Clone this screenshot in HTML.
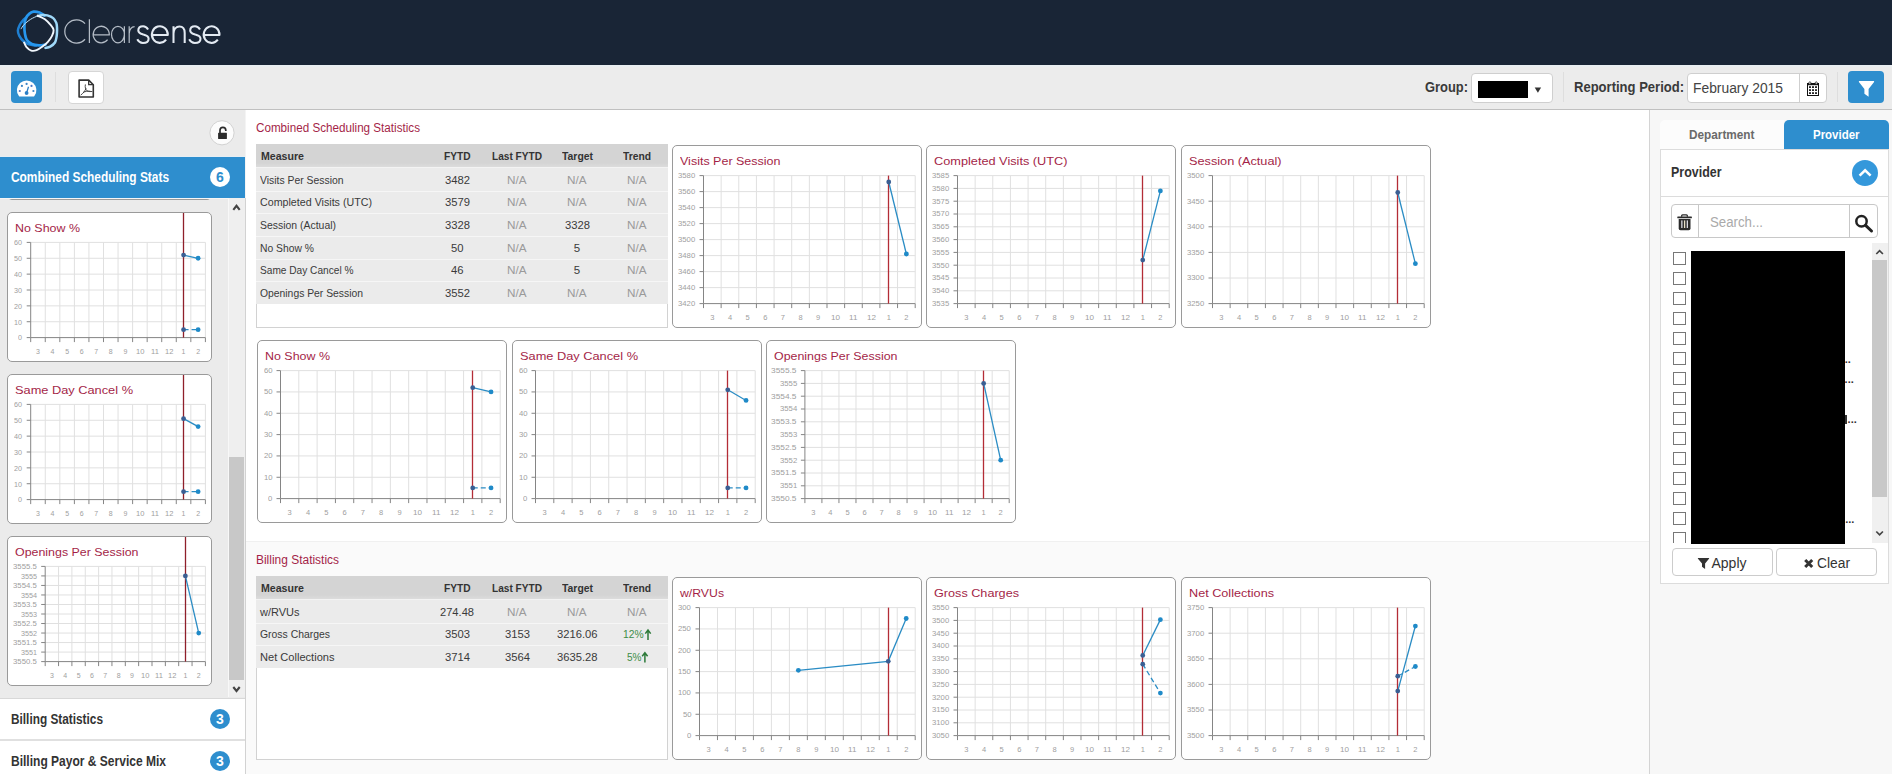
<!DOCTYPE html>
<html><head><meta charset="utf-8"><title>Clearsense</title>
<style>
html,body{margin:0;padding:0}
body{width:1892px;height:774px;overflow:hidden;position:relative;background:#fff;font-family:"Liberation Sans",sans-serif;}
.t{position:absolute;white-space:nowrap;transform-origin:0 50%;}
.card{position:absolute;border:1px solid #9a9a9a;border-radius:5px;background:#fff;}
.sv{position:absolute;left:0;top:0;pointer-events:none;overflow:visible}
.abs{position:absolute}
</style></head><body>
<div style="position:absolute;left:0;top:0;width:1892px;height:65px;background:#192536"></div>
<svg class="sv" width="240" height="65" viewBox="0 0 240 65">
<g fill="none" stroke-linecap="round" stroke-linejoin="round">
<path d="M26.50 17.50C25.85 18.05 23.75 19.52 22.60 20.80C21.45 22.08 20.38 23.57 19.60 25.20C18.82 26.83 17.95 28.82 17.90 30.60C17.85 32.38 18.37 34.12 19.30 35.90C20.23 37.68 21.90 39.88 23.50 41.30C25.10 42.72 26.82 43.68 28.90 44.40C30.98 45.12 34.82 45.40 36.00 45.60" stroke="#1f80d2" stroke-width="2.5"/><path d="M45.50 44.60C44.42 44.72 41.28 45.42 39.00 45.30C36.72 45.18 33.83 44.77 31.80 43.90C29.77 43.03 27.93 41.73 26.80 40.10C25.67 38.47 25.40 36.48 25.00 34.10C24.60 31.72 24.25 28.47 24.40 25.80C24.55 23.13 25.05 20.13 25.90 18.10C26.75 16.07 28.22 14.67 29.50 13.60C30.78 12.53 31.93 11.87 33.60 11.70C35.27 11.53 37.68 11.95 39.50 12.60C41.32 13.25 43.67 15.10 44.50 15.60" stroke="#2797ee" stroke-width="2.7"/><path d="M21.10 28.80C21.60 28.10 22.52 26.18 24.10 24.60C25.68 23.02 28.32 20.77 30.60 19.30C32.88 17.83 36.60 16.38 37.80 15.80" stroke="#bfe4fa" stroke-width="1.0"/><path d="M37.80 15.80C38.58 15.67 40.92 15.07 42.50 15.00C44.08 14.93 45.52 14.88 47.30 15.40C49.08 15.92 51.70 16.85 53.20 18.10C54.70 19.35 55.67 21.32 56.30 22.90C56.93 24.48 56.88 26.08 57.00 27.60C57.12 29.12 57.07 30.52 57.00 32.00C56.93 33.48 56.93 34.75 56.60 36.50C56.27 38.25 56.07 40.82 55.00 42.50C53.93 44.18 51.78 45.70 50.20 46.60C48.62 47.50 46.28 47.68 45.50 47.90" stroke="#9fd8f8" stroke-width="2.5"/><path d="M37.80 15.80C38.98 16.38 42.73 17.73 44.90 19.30C47.07 20.87 49.35 23.42 50.80 25.20C52.25 26.98 53.40 28.22 53.60 30.00C53.80 31.78 52.95 33.92 52.00 35.90C51.05 37.88 49.48 40.12 47.90 41.90C46.32 43.68 44.38 45.22 42.50 46.60C40.62 47.98 38.48 49.53 36.60 50.20C34.72 50.87 32.88 51.10 31.20 50.60C29.52 50.10 27.68 48.55 26.50 47.20C25.32 45.85 24.50 43.28 24.10 42.50" stroke="#f1f7fd" stroke-width="1.9"/>
<path d="M85.02 23.69A11.60 11.60 0 1 0 85.02 39.21M89.4 19.3V42.90M93.20 34.90H109.30A8.05 8.30 0 1 0 107.59 39.71M124.4 26.30V42.90M124.4 34.6A6.45 8.3 0 1 0 111.5 34.6A6.45 8.3 0 1 0 124.4 34.6M129.2 26.30V42.90M129.2 33.5C129.6 29 132 26.7 134.6 26.6" stroke="#b4bcc6" stroke-width="1.25" stroke-linecap="butt"/>
<path d="M148.10 29.50 C146.70 27.20 144.60 26.30 143.10 26.30 C139.60 26.30 138.30 27.90 138.30 30.60 C138.30 33.50 141.10 33.90 143.40 34.60 C146.10 35.30 148.60 36.10 148.60 38.70 C148.60 41.50 146.30 42.90 142.90 42.90 C140.10 42.90 138.50 41.70 137.30 39.30M151.90 34.90H167.80A7.95 8.30 0 1 0 166.11 39.71M173.5 26.30V42.90M173.5 33.5C173.7 29 176.3 26.5 179.4 26.5C182.8 26.5 184.7 29 184.7 33V42.90M200.00 29.50 C198.60 27.20 196.50 26.30 195.00 26.30 C191.50 26.30 190.20 27.90 190.20 30.60 C190.20 33.50 193.00 33.90 195.30 34.60 C198.00 35.30 200.50 36.10 200.50 38.70 C200.50 41.50 198.20 42.90 194.80 42.90 C192.00 42.90 190.40 41.70 189.20 39.30M203.70 34.90H219.50A7.90 8.30 0 1 0 217.83 39.71" stroke="#e3eaf2" stroke-width="2.05" stroke-linecap="butt"/>
</g></svg>
<div style="position:absolute;left:0;top:65px;width:1892px;height:44px;background:linear-gradient(#e9eef1 0,#e9eef1 1.5px,#ececec 2px);border-bottom:1px solid #c0c0c0"></div>
<div class="abs" style="left:11px;top:71px;width:31px;height:32px;background:#2e8ece;border-radius:4px"></div>
<div class="abs" style="left:55px;top:72px;width:1px;height:30px;background:#dedede"></div>
<div class="abs" style="left:68px;top:71px;width:34px;height:31px;background:#fff;border:1px solid #d6d6d6;border-radius:4px"></div>
<div class="t" style="left:1424.80px;top:79.95px;font-size:14px;line-height:14px;color:#3a3a3a;font-weight:bold;transform:scaleX(0.9217);">Group:</div>
<div class="abs" style="left:1471px;top:73px;width:80px;height:28px;background:#fff;border:1px solid #cfcfcf;border-radius:4px"></div>
<div class="abs" style="left:1478px;top:81px;width:50px;height:17px;background:#000"></div>
<svg class="sv" width="1892" height="120"><path d="M1534.7 87.5h6.4l-3.2 5.2z" fill="#333"/></svg>
<div class="abs" style="left:1563px;top:72px;width:1px;height:30px;background:#dedede"></div>
<div class="t" style="left:1574.00px;top:79.95px;font-size:14px;line-height:14px;color:#3a3a3a;font-weight:bold;transform:scaleX(0.9305);">Reporting Period:</div>
<div class="abs" style="left:1687px;top:73px;width:138px;height:28px;background:#fff;border:1px solid #cfcfcf;border-radius:4px"></div>
<div class="abs" style="left:1799px;top:74px;width:1px;height:28px;background:#cfcfcf"></div>
<div class="t" style="left:1693.20px;top:80.85px;font-size:14px;line-height:14px;color:#444;transform:scaleX(0.9884);">February 2015</div>
<div class="abs" style="left:1837px;top:72px;width:1px;height:30px;background:#dedede"></div>
<div class="abs" style="left:1848px;top:71px;width:36px;height:32px;background:#2e8ece;border-radius:4px"></div>
<svg class="sv" width="1892" height="120" viewBox="0 0 1892 120">
<path d="M18.9 96.1A9.75 9.75 0 1 1 34.4 96.1Q34.1 96.6 33.4 96.6H19.9Q19.2 96.6 18.9 96.1Z" fill="#fff"/>
<g fill="#3a84c6"><circle cx="21.9" cy="85.9" r="1.1"/><circle cx="26.6" cy="83.9" r="1.1"/><circle cx="31.5" cy="85.9" r="1.1" fill="#4a78c8"/><circle cx="19.8" cy="91" r="1.1" fill="#4a78c8"/><circle cx="33.4" cy="91" r="1.1"/><circle cx="26.6" cy="93" r="1.9" fill="#2b7fc6"/></g>
<path d="M28.5 86.8L26.6 93" stroke="#2b7fc6" stroke-width="1.3" fill="none"/>
<path d="M79.1 80.1H88.7L93.3 84.7V97H79.1Z" stroke="#333" stroke-width="1.6" fill="#fff" stroke-linejoin="round"/>
<path d="M88.7 80.1V84.7H93.3" stroke="#333" stroke-width="1.3" fill="none"/>
<path d="M85.3 84.8C84.8 87.5 85.6 89.8 87.2 90.9C88.6 91.8 90.6 91.6 91.9 91.5M86 88.5C85 91 83 93.5 81 94.9M83.4 92.3C85.4 91.3 88 90.9 90 91.2" stroke="#333" stroke-width="0.9" fill="none" stroke-linecap="round"/>
<rect x="1807.5" y="84.5" width="11" height="11" fill="#fff" stroke="#111" stroke-width="1"/>
<rect x="1807" y="83" width="12" height="2.2" fill="#111"/>
<rect x="1808.9" y="81.8" width="1.9" height="2.4" rx="0.8" fill="#fff" stroke="#111" stroke-width="0.7"/><rect x="1815.3" y="81.8" width="1.9" height="2.4" rx="0.8" fill="#fff" stroke="#111" stroke-width="0.7"/>
<g fill="#111"><rect x="1809.1" y="86.2" width="1.8" height="1.8"/><rect x="1812.1" y="86.2" width="1.8" height="1.8"/><rect x="1815.1" y="86.2" width="1.8" height="1.8"/><rect x="1809.1" y="89.2" width="1.8" height="1.8"/><rect x="1812.1" y="89.2" width="1.8" height="1.8"/><rect x="1815.1" y="89.2" width="1.8" height="1.8"/><rect x="1809.1" y="92.2" width="1.8" height="1.8"/><rect x="1812.1" y="92.2" width="1.8" height="1.8"/><rect x="1815.1" y="92.2" width="1.8" height="1.8"/></g>
<path d="M1859.1 81H1873.9Q1874.5 81.5 1873.9 82.2L1868.6 88.9V96.8L1864.4 93.7V88.9L1859.1 82.2Q1858.5 81.5 1859.1 81Z" fill="#fff"/>
</svg>
<div class="abs" style="left:0px;top:110px;width:245px;height:664px;background:#ebebeb"></div>
<div class="abs" style="left:245px;top:110px;width:1px;height:88px;background:#f4f4f4"></div>
<div class="abs" style="left:245px;top:198px;width:1px;height:576px;background:#d2d2d2"></div>
<div class="abs" style="left:228px;top:198px;width:1px;height:499px;background:#f8f8f8"></div>
<div class="abs" style="left:229px;top:198px;width:16px;height:499px;background:#efefef"></div>
<div class="abs" style="left:229px;top:457px;width:15px;height:223px;background:#c8c8c8"></div>
<svg class="sv" width="260" height="774" viewBox="0 0 260 774"><circle cx="222" cy="132.8" r="12.1" fill="#fcfcfc" stroke="#d2d2d2" stroke-width="1"/><rect x="218.1" y="132.8" width="8.8" height="6.2" rx="0.6" fill="#2b2b2b"/><path d="M220 133V130.3A2.9 3 0 0 1 225.8 130.3V131" stroke="#2b2b2b" stroke-width="1.7" fill="none"/><path d="M233.3 209.8l3.2-4l3.2 4M233.3 687l3.2 4l3.2-4" stroke="#444" stroke-width="2.1" fill="none"/></svg>
<div class="abs" style="left:7px;top:170px;width:203px;height:28px;background:#fff;border:1px solid #9a9a9a;border-radius:5px"></div>
<div class="abs" style="left:0px;top:155.5px;width:245px;height:2px;background:#e6eef4"></div>
<div class="abs" style="left:0px;top:157px;width:245px;height:41px;background:#2e8ece"></div>
<div class="abs" style="left:0px;top:198px;width:229px;height:1px;background:#f6f6f6"></div>
<div class="t" style="left:11.30px;top:170.15px;font-size:14px;line-height:14px;color:#fff;font-weight:bold;transform:scaleX(0.8499);">Combined Scheduling Stats</div>
<div class="abs" style="left:210px;top:167px;width:20px;height:20px;background:#fff;border-radius:50%"></div>
<div class="t" style="left:216.11px;top:170.15px;font-size:14px;line-height:14px;color:#2e8ece;font-weight:bold;">6</div>
<div class="card" style="left:7px;top:212px;width:203px;height:148px"></div>
<div class="t" style="left:15.00px;top:222.69px;font-size:11px;line-height:11px;color:#a41f48;transform:scaleX(1.1310);">No Show %</div>
<svg class="sv" width="1892" height="774" viewBox="0 0 1892 774"><path d="M45.26 242.40V337.60M59.82 242.40V337.60M74.38 242.40V337.60M88.93 242.40V337.60M103.49 242.40V337.60M118.05 242.40V337.60M132.61 242.40V337.60M147.17 242.40V337.60M161.72 242.40V337.60M176.28 242.40V337.60M190.84 242.40V337.60M205.40 242.40V337.60M30.70 242.40H205.40M30.70 258.27H205.40M30.70 274.13H205.40M30.70 290.00H205.40M30.70 305.87H205.40M30.70 321.73H205.40" stroke="#e0e0e0" stroke-width="1" fill="none"/><path d="M30.70 242.40V337.60M30.70 337.60H205.40M30.70 337.60v4.5M45.26 337.60v4.5M59.82 337.60v4.5M74.38 337.60v4.5M88.93 337.60v4.5M103.49 337.60v4.5M118.05 337.60v4.5M132.61 337.60v4.5M147.17 337.60v4.5M161.72 337.60v4.5M176.28 337.60v4.5M190.84 337.60v4.5M205.40 337.60v4.5M30.70 242.40h-4M30.70 258.27h-4M30.70 274.13h-4M30.70 290.00h-4M30.70 305.87h-4M30.70 321.73h-4M30.70 337.60h-4" stroke="#858585" stroke-width="1" fill="none"/><path d="M183.50 213.00V337.60" stroke="#8f1f2a" stroke-width="1.3" fill="none"/><path d="M183.56 255.09L198.12 258.27" stroke="#2a8cc4" stroke-width="1.3" fill="none"/><path d="M183.56 329.67L198.12 329.67" stroke="#2a8cc4" stroke-width="1.3" fill="none" stroke-dasharray="5 3"/><circle cx="183.56" cy="255.09" r="2.4" fill="#3a5f93"/><circle cx="198.12" cy="258.27" r="2.4" fill="#1f8ac8"/><circle cx="183.56" cy="329.67" r="2.4" fill="#3a5f93"/><circle cx="198.12" cy="329.67" r="2.4" fill="#1f8ac8"/></svg>
<div class="t" style="left:18.49px;top:334.37px;font-size:7px;line-height:7px;color:#a0a0a0;transform:scaleX(1.0300);">0</div>
<div class="t" style="left:14.48px;top:318.51px;font-size:7px;line-height:7px;color:#a0a0a0;transform:scaleX(1.0300);">10</div>
<div class="t" style="left:14.48px;top:302.64px;font-size:7px;line-height:7px;color:#a0a0a0;transform:scaleX(1.0300);">20</div>
<div class="t" style="left:14.48px;top:286.77px;font-size:7px;line-height:7px;color:#a0a0a0;transform:scaleX(1.0300);">30</div>
<div class="t" style="left:14.48px;top:270.91px;font-size:7px;line-height:7px;color:#a0a0a0;transform:scaleX(1.0300);">40</div>
<div class="t" style="left:14.48px;top:255.04px;font-size:7px;line-height:7px;color:#a0a0a0;transform:scaleX(1.0300);">50</div>
<div class="t" style="left:14.48px;top:239.17px;font-size:7px;line-height:7px;color:#a0a0a0;transform:scaleX(1.0300);">60</div>
<div class="t" style="left:36.03px;top:348.27px;font-size:7px;line-height:7px;color:#a0a0a0;">3</div>
<div class="t" style="left:50.59px;top:348.27px;font-size:7px;line-height:7px;color:#a0a0a0;">4</div>
<div class="t" style="left:65.15px;top:348.27px;font-size:7px;line-height:7px;color:#a0a0a0;">5</div>
<div class="t" style="left:79.71px;top:348.27px;font-size:7px;line-height:7px;color:#a0a0a0;">6</div>
<div class="t" style="left:94.27px;top:348.27px;font-size:7px;line-height:7px;color:#a0a0a0;">7</div>
<div class="t" style="left:108.82px;top:348.27px;font-size:7px;line-height:7px;color:#a0a0a0;">8</div>
<div class="t" style="left:123.38px;top:348.27px;font-size:7px;line-height:7px;color:#a0a0a0;">9</div>
<div class="t" style="left:135.68px;top:348.27px;font-size:7px;line-height:7px;color:#a0a0a0;transform:scaleX(1.0800);">10</div>
<div class="t" style="left:150.52px;top:348.27px;font-size:7px;line-height:7px;color:#a0a0a0;transform:scaleX(1.0800);">11</div>
<div class="t" style="left:164.80px;top:348.27px;font-size:7px;line-height:7px;color:#a0a0a0;transform:scaleX(1.0800);">12</div>
<div class="t" style="left:181.62px;top:348.27px;font-size:7px;line-height:7px;color:#a0a0a0;">1</div>
<div class="t" style="left:196.17px;top:348.27px;font-size:7px;line-height:7px;color:#a0a0a0;">2</div>
<div class="card" style="left:7px;top:374px;width:203px;height:148px"></div>
<div class="t" style="left:15.00px;top:384.69px;font-size:11px;line-height:11px;color:#a41f48;transform:scaleX(1.1627);">Same Day Cancel %</div>
<svg class="sv" width="1892" height="774" viewBox="0 0 1892 774"><path d="M45.26 404.40V499.60M59.82 404.40V499.60M74.38 404.40V499.60M88.93 404.40V499.60M103.49 404.40V499.60M118.05 404.40V499.60M132.61 404.40V499.60M147.17 404.40V499.60M161.72 404.40V499.60M176.28 404.40V499.60M190.84 404.40V499.60M205.40 404.40V499.60M30.70 404.40H205.40M30.70 420.27H205.40M30.70 436.13H205.40M30.70 452.00H205.40M30.70 467.87H205.40M30.70 483.73H205.40" stroke="#e0e0e0" stroke-width="1" fill="none"/><path d="M30.70 404.40V499.60M30.70 499.60H205.40M30.70 499.60v4.5M45.26 499.60v4.5M59.82 499.60v4.5M74.38 499.60v4.5M88.93 499.60v4.5M103.49 499.60v4.5M118.05 499.60v4.5M132.61 499.60v4.5M147.17 499.60v4.5M161.72 499.60v4.5M176.28 499.60v4.5M190.84 499.60v4.5M205.40 499.60v4.5M30.70 404.40h-4M30.70 420.27h-4M30.70 436.13h-4M30.70 452.00h-4M30.70 467.87h-4M30.70 483.73h-4M30.70 499.60h-4" stroke="#858585" stroke-width="1" fill="none"/><path d="M183.50 375.00V499.60" stroke="#8f1f2a" stroke-width="1.3" fill="none"/><path d="M183.56 418.68L198.12 426.61" stroke="#2a8cc4" stroke-width="1.3" fill="none"/><path d="M183.56 491.67L198.12 491.67" stroke="#2a8cc4" stroke-width="1.3" fill="none" stroke-dasharray="5 3"/><circle cx="183.56" cy="418.68" r="2.4" fill="#3a5f93"/><circle cx="198.12" cy="426.61" r="2.4" fill="#1f8ac8"/><circle cx="183.56" cy="491.67" r="2.4" fill="#3a5f93"/><circle cx="198.12" cy="491.67" r="2.4" fill="#1f8ac8"/></svg>
<div class="t" style="left:18.49px;top:496.37px;font-size:7px;line-height:7px;color:#a0a0a0;transform:scaleX(1.0300);">0</div>
<div class="t" style="left:14.48px;top:480.51px;font-size:7px;line-height:7px;color:#a0a0a0;transform:scaleX(1.0300);">10</div>
<div class="t" style="left:14.48px;top:464.64px;font-size:7px;line-height:7px;color:#a0a0a0;transform:scaleX(1.0300);">20</div>
<div class="t" style="left:14.48px;top:448.77px;font-size:7px;line-height:7px;color:#a0a0a0;transform:scaleX(1.0300);">30</div>
<div class="t" style="left:14.48px;top:432.91px;font-size:7px;line-height:7px;color:#a0a0a0;transform:scaleX(1.0300);">40</div>
<div class="t" style="left:14.48px;top:417.04px;font-size:7px;line-height:7px;color:#a0a0a0;transform:scaleX(1.0300);">50</div>
<div class="t" style="left:14.48px;top:401.17px;font-size:7px;line-height:7px;color:#a0a0a0;transform:scaleX(1.0300);">60</div>
<div class="t" style="left:36.03px;top:510.27px;font-size:7px;line-height:7px;color:#a0a0a0;">3</div>
<div class="t" style="left:50.59px;top:510.27px;font-size:7px;line-height:7px;color:#a0a0a0;">4</div>
<div class="t" style="left:65.15px;top:510.27px;font-size:7px;line-height:7px;color:#a0a0a0;">5</div>
<div class="t" style="left:79.71px;top:510.27px;font-size:7px;line-height:7px;color:#a0a0a0;">6</div>
<div class="t" style="left:94.27px;top:510.27px;font-size:7px;line-height:7px;color:#a0a0a0;">7</div>
<div class="t" style="left:108.82px;top:510.27px;font-size:7px;line-height:7px;color:#a0a0a0;">8</div>
<div class="t" style="left:123.38px;top:510.27px;font-size:7px;line-height:7px;color:#a0a0a0;">9</div>
<div class="t" style="left:135.68px;top:510.27px;font-size:7px;line-height:7px;color:#a0a0a0;transform:scaleX(1.0800);">10</div>
<div class="t" style="left:150.52px;top:510.27px;font-size:7px;line-height:7px;color:#a0a0a0;transform:scaleX(1.0800);">11</div>
<div class="t" style="left:164.80px;top:510.27px;font-size:7px;line-height:7px;color:#a0a0a0;transform:scaleX(1.0800);">12</div>
<div class="t" style="left:181.62px;top:510.27px;font-size:7px;line-height:7px;color:#a0a0a0;">1</div>
<div class="t" style="left:196.17px;top:510.27px;font-size:7px;line-height:7px;color:#a0a0a0;">2</div>
<div class="card" style="left:7px;top:536px;width:203px;height:148px"></div>
<div class="t" style="left:15.00px;top:546.69px;font-size:11px;line-height:11px;color:#a41f48;transform:scaleX(1.1283);">Openings Per Session</div>
<svg class="sv" width="1892" height="774" viewBox="0 0 1892 774"><path d="M58.55 566.40V661.60M71.90 566.40V661.60M85.25 566.40V661.60M98.60 566.40V661.60M111.95 566.40V661.60M125.30 566.40V661.60M138.65 566.40V661.60M152.00 566.40V661.60M165.35 566.40V661.60M178.70 566.40V661.60M192.05 566.40V661.60M205.40 566.40V661.60M45.20 566.40H205.40M45.20 575.92H205.40M45.20 585.44H205.40M45.20 594.96H205.40M45.20 604.48H205.40M45.20 614.00H205.40M45.20 623.52H205.40M45.20 633.04H205.40M45.20 642.56H205.40M45.20 652.08H205.40" stroke="#e0e0e0" stroke-width="1" fill="none"/><path d="M45.20 566.40V661.60M45.20 661.60H205.40M45.20 661.60v4.5M58.55 661.60v4.5M71.90 661.60v4.5M85.25 661.60v4.5M98.60 661.60v4.5M111.95 661.60v4.5M125.30 661.60v4.5M138.65 661.60v4.5M152.00 661.60v4.5M165.35 661.60v4.5M178.70 661.60v4.5M192.05 661.60v4.5M205.40 661.60v4.5M45.20 566.40h-4M45.20 575.92h-4M45.20 585.44h-4M45.20 594.96h-4M45.20 604.48h-4M45.20 614.00h-4M45.20 623.52h-4M45.20 633.04h-4M45.20 642.56h-4M45.20 652.08h-4M45.20 661.60h-4" stroke="#858585" stroke-width="1" fill="none"/><path d="M185.50 537.00V661.60" stroke="#8f1f2a" stroke-width="1.3" fill="none"/><path d="M185.38 575.92L198.73 633.04" stroke="#2a8cc4" stroke-width="1.3" fill="none"/><circle cx="185.38" cy="575.92" r="2.4" fill="#3a5f93"/><circle cx="198.73" cy="633.04" r="2.4" fill="#1f8ac8"/></svg>
<div class="t" style="left:13.23px;top:658.37px;font-size:7px;line-height:7px;color:#a0a0a0;transform:scaleX(1.1100);">3550.5</div>
<div class="t" style="left:20.96px;top:648.85px;font-size:7px;line-height:7px;color:#a0a0a0;transform:scaleX(1.0300);">3551</div>
<div class="t" style="left:13.23px;top:639.33px;font-size:7px;line-height:7px;color:#a0a0a0;transform:scaleX(1.1100);">3551.5</div>
<div class="t" style="left:20.96px;top:629.81px;font-size:7px;line-height:7px;color:#a0a0a0;transform:scaleX(1.0300);">3552</div>
<div class="t" style="left:13.23px;top:620.29px;font-size:7px;line-height:7px;color:#a0a0a0;transform:scaleX(1.1100);">3552.5</div>
<div class="t" style="left:20.96px;top:610.77px;font-size:7px;line-height:7px;color:#a0a0a0;transform:scaleX(1.0300);">3553</div>
<div class="t" style="left:13.23px;top:601.25px;font-size:7px;line-height:7px;color:#a0a0a0;transform:scaleX(1.1100);">3553.5</div>
<div class="t" style="left:20.96px;top:591.73px;font-size:7px;line-height:7px;color:#a0a0a0;transform:scaleX(1.0300);">3554</div>
<div class="t" style="left:13.23px;top:582.21px;font-size:7px;line-height:7px;color:#a0a0a0;transform:scaleX(1.1100);">3554.5</div>
<div class="t" style="left:20.96px;top:572.69px;font-size:7px;line-height:7px;color:#a0a0a0;transform:scaleX(1.0300);">3555</div>
<div class="t" style="left:13.23px;top:563.17px;font-size:7px;line-height:7px;color:#a0a0a0;transform:scaleX(1.1100);">3555.5</div>
<div class="t" style="left:49.93px;top:672.27px;font-size:7px;line-height:7px;color:#a0a0a0;">3</div>
<div class="t" style="left:63.28px;top:672.27px;font-size:7px;line-height:7px;color:#a0a0a0;">4</div>
<div class="t" style="left:76.63px;top:672.27px;font-size:7px;line-height:7px;color:#a0a0a0;">5</div>
<div class="t" style="left:89.98px;top:672.27px;font-size:7px;line-height:7px;color:#a0a0a0;">6</div>
<div class="t" style="left:103.33px;top:672.27px;font-size:7px;line-height:7px;color:#a0a0a0;">7</div>
<div class="t" style="left:116.68px;top:672.27px;font-size:7px;line-height:7px;color:#a0a0a0;">8</div>
<div class="t" style="left:130.03px;top:672.27px;font-size:7px;line-height:7px;color:#a0a0a0;">9</div>
<div class="t" style="left:141.12px;top:672.27px;font-size:7px;line-height:7px;color:#a0a0a0;transform:scaleX(1.0800);">10</div>
<div class="t" style="left:154.75px;top:672.27px;font-size:7px;line-height:7px;color:#a0a0a0;transform:scaleX(1.0800);">11</div>
<div class="t" style="left:167.82px;top:672.27px;font-size:7px;line-height:7px;color:#a0a0a0;transform:scaleX(1.0800);">12</div>
<div class="t" style="left:183.43px;top:672.27px;font-size:7px;line-height:7px;color:#a0a0a0;">1</div>
<div class="t" style="left:196.78px;top:672.27px;font-size:7px;line-height:7px;color:#a0a0a0;">2</div>
<div class="abs" style="left:0px;top:697.5px;width:245px;height:40.5px;background:#fff;border-top:1.5px solid #d8d8d8;border-bottom:2px solid #e0e0e0"></div>
<div class="abs" style="left:0px;top:741px;width:245px;height:40px;background:#fff"></div>
<div class="t" style="left:11.30px;top:711.65px;font-size:14px;line-height:14px;color:#333;font-weight:bold;transform:scaleX(0.8447);">Billing Statistics</div>
<div class="t" style="left:11.30px;top:753.65px;font-size:14px;line-height:14px;color:#333;font-weight:bold;transform:scaleX(0.8587);">Billing Payor &amp; Service Mix</div>
<div class="abs" style="left:210px;top:709px;width:20px;height:20px;background:#2e8ece;border-radius:50%"></div>
<div class="t" style="left:216.11px;top:712.15px;font-size:14px;line-height:14px;color:#fff;font-weight:bold;">3</div>
<div class="abs" style="left:210px;top:751px;width:20px;height:20px;background:#2e8ece;border-radius:50%"></div>
<div class="t" style="left:216.11px;top:754.15px;font-size:14px;line-height:14px;color:#fff;font-weight:bold;">3</div>
<div class="abs" style="left:246px;top:110px;width:1403px;height:431px;background:#fff"></div>
<div class="abs" style="left:246px;top:541px;width:1403px;height:233px;background:#fafafa;border-top:1px solid #f0f0f0"></div>
<div class="t" style="left:256.00px;top:121.84px;font-size:12px;line-height:12px;color:#a41f48;transform:scaleX(0.9718);">Combined Scheduling Statistics</div>
<div class="t" style="left:256.00px;top:553.84px;font-size:12px;line-height:12px;color:#a41f48;transform:scaleX(0.9957);">Billing Statistics</div>
<div class="abs" style="left:256px;top:144px;width:410px;height:183px;background:#fff;border:1px solid #d2d2d2;border-top:none"></div>
<div class="abs" style="left:256px;top:144px;width:412px;height:24px;background:#f3f3f3"></div>
<div class="abs" style="left:256px;top:144px;width:412px;height:23.2px;background:linear-gradient(#d4d4d4 0,#d4d4d4 82%,#dcdcdc 100%)"></div>
<div class="t" style="left:260.50px;top:151.17px;font-size:11.5px;line-height:11.5px;color:#333;font-weight:bold;transform:scaleX(0.9215);">Measure</div>
<div class="t" style="left:443.75px;top:151.17px;font-size:11.5px;line-height:11.5px;color:#333;font-weight:bold;transform:scaleX(0.8826);">FYTD</div>
<div class="t" style="left:492.00px;top:151.17px;font-size:11.5px;line-height:11.5px;color:#333;font-weight:bold;transform:scaleX(0.8793);">Last FYTD</div>
<div class="t" style="left:561.50px;top:151.17px;font-size:11.5px;line-height:11.5px;color:#333;font-weight:bold;transform:scaleX(0.9040);">Target</div>
<div class="t" style="left:623.00px;top:151.17px;font-size:11.5px;line-height:11.5px;color:#333;font-weight:bold;transform:scaleX(0.8943);">Trend</div>
<div class="abs" style="left:256px;top:168px;width:412px;height:135.7px;background:#ebebeb"></div>
<div class="abs" style="left:256px;top:190.6px;width:412px;height:1px;background:#f6f6f6"></div>
<div class="abs" style="left:256px;top:213.3px;width:412px;height:1px;background:#f6f6f6"></div>
<div class="abs" style="left:256px;top:236px;width:412px;height:1px;background:#f6f6f6"></div>
<div class="abs" style="left:256px;top:258.7px;width:412px;height:1px;background:#f6f6f6"></div>
<div class="abs" style="left:256px;top:281.4px;width:412px;height:1px;background:#f6f6f6"></div>
<div class="t" style="left:260.30px;top:174.57px;font-size:11.5px;line-height:11.5px;color:#3a3a3a;transform:scaleX(0.9030);">Visits Per Session</div>
<div class="t" style="left:444.50px;top:174.57px;font-size:11.5px;line-height:11.5px;color:#3a3a3a;transform:scaleX(0.9772);">3482</div>
<div class="t" style="left:507.25px;top:174.57px;font-size:11.5px;line-height:11.5px;color:#9a9a9a;transform:scaleX(1.0172);">N/A</div>
<div class="t" style="left:567.25px;top:174.57px;font-size:11.5px;line-height:11.5px;color:#9a9a9a;transform:scaleX(1.0172);">N/A</div>
<div class="t" style="left:627.25px;top:174.57px;font-size:11.5px;line-height:11.5px;color:#9a9a9a;transform:scaleX(1.0172);">N/A</div>
<div class="t" style="left:260.30px;top:197.27px;font-size:11.5px;line-height:11.5px;color:#3a3a3a;transform:scaleX(0.9290);">Completed Visits (UTC)</div>
<div class="t" style="left:444.50px;top:197.27px;font-size:11.5px;line-height:11.5px;color:#3a3a3a;transform:scaleX(0.9772);">3579</div>
<div class="t" style="left:507.25px;top:197.27px;font-size:11.5px;line-height:11.5px;color:#9a9a9a;transform:scaleX(1.0172);">N/A</div>
<div class="t" style="left:567.25px;top:197.27px;font-size:11.5px;line-height:11.5px;color:#9a9a9a;transform:scaleX(1.0172);">N/A</div>
<div class="t" style="left:627.25px;top:197.27px;font-size:11.5px;line-height:11.5px;color:#9a9a9a;transform:scaleX(1.0172);">N/A</div>
<div class="t" style="left:260.30px;top:219.97px;font-size:11.5px;line-height:11.5px;color:#3a3a3a;transform:scaleX(0.9077);">Session (Actual)</div>
<div class="t" style="left:444.50px;top:219.97px;font-size:11.5px;line-height:11.5px;color:#3a3a3a;transform:scaleX(0.9772);">3328</div>
<div class="t" style="left:507.25px;top:219.97px;font-size:11.5px;line-height:11.5px;color:#9a9a9a;transform:scaleX(1.0172);">N/A</div>
<div class="t" style="left:564.50px;top:219.97px;font-size:11.5px;line-height:11.5px;color:#3a3a3a;transform:scaleX(0.9772);">3328</div>
<div class="t" style="left:627.25px;top:219.97px;font-size:11.5px;line-height:11.5px;color:#9a9a9a;transform:scaleX(1.0172);">N/A</div>
<div class="t" style="left:260.30px;top:242.67px;font-size:11.5px;line-height:11.5px;color:#3a3a3a;transform:scaleX(0.8988);">No Show %</div>
<div class="t" style="left:450.75px;top:242.67px;font-size:11.5px;line-height:11.5px;color:#3a3a3a;transform:scaleX(0.9772);">50</div>
<div class="t" style="left:507.25px;top:242.67px;font-size:11.5px;line-height:11.5px;color:#9a9a9a;transform:scaleX(1.0172);">N/A</div>
<div class="t" style="left:573.80px;top:242.67px;font-size:11.5px;line-height:11.5px;color:#3a3a3a;">5</div>
<div class="t" style="left:627.25px;top:242.67px;font-size:11.5px;line-height:11.5px;color:#9a9a9a;transform:scaleX(1.0172);">N/A</div>
<div class="t" style="left:260.30px;top:265.37px;font-size:11.5px;line-height:11.5px;color:#3a3a3a;transform:scaleX(0.8812);">Same Day Cancel %</div>
<div class="t" style="left:450.75px;top:265.37px;font-size:11.5px;line-height:11.5px;color:#3a3a3a;transform:scaleX(0.9772);">46</div>
<div class="t" style="left:507.25px;top:265.37px;font-size:11.5px;line-height:11.5px;color:#9a9a9a;transform:scaleX(1.0172);">N/A</div>
<div class="t" style="left:573.80px;top:265.37px;font-size:11.5px;line-height:11.5px;color:#3a3a3a;">5</div>
<div class="t" style="left:627.25px;top:265.37px;font-size:11.5px;line-height:11.5px;color:#9a9a9a;transform:scaleX(1.0172);">N/A</div>
<div class="t" style="left:260.30px;top:288.07px;font-size:11.5px;line-height:11.5px;color:#3a3a3a;transform:scaleX(0.9001);">Openings Per Session</div>
<div class="t" style="left:444.50px;top:288.07px;font-size:11.5px;line-height:11.5px;color:#3a3a3a;transform:scaleX(0.9772);">3552</div>
<div class="t" style="left:507.25px;top:288.07px;font-size:11.5px;line-height:11.5px;color:#9a9a9a;transform:scaleX(1.0172);">N/A</div>
<div class="t" style="left:567.25px;top:288.07px;font-size:11.5px;line-height:11.5px;color:#9a9a9a;transform:scaleX(1.0172);">N/A</div>
<div class="t" style="left:627.25px;top:288.07px;font-size:11.5px;line-height:11.5px;color:#9a9a9a;transform:scaleX(1.0172);">N/A</div>
<div class="abs" style="left:256px;top:576px;width:410px;height:183px;background:#fff;border:1px solid #d2d2d2;border-top:none"></div>
<div class="abs" style="left:256px;top:576px;width:412px;height:24px;background:#f3f3f3"></div>
<div class="abs" style="left:256px;top:576px;width:412px;height:23.2px;background:linear-gradient(#d4d4d4 0,#d4d4d4 82%,#dcdcdc 100%)"></div>
<div class="t" style="left:260.50px;top:583.17px;font-size:11.5px;line-height:11.5px;color:#333;font-weight:bold;transform:scaleX(0.9215);">Measure</div>
<div class="t" style="left:443.75px;top:583.17px;font-size:11.5px;line-height:11.5px;color:#333;font-weight:bold;transform:scaleX(0.8826);">FYTD</div>
<div class="t" style="left:492.00px;top:583.17px;font-size:11.5px;line-height:11.5px;color:#333;font-weight:bold;transform:scaleX(0.8793);">Last FYTD</div>
<div class="t" style="left:561.50px;top:583.17px;font-size:11.5px;line-height:11.5px;color:#333;font-weight:bold;transform:scaleX(0.9040);">Target</div>
<div class="t" style="left:623.00px;top:583.17px;font-size:11.5px;line-height:11.5px;color:#333;font-weight:bold;transform:scaleX(0.8943);">Trend</div>
<div class="abs" style="left:256px;top:600px;width:412px;height:67.6px;background:#ebebeb"></div>
<div class="abs" style="left:256px;top:622.6px;width:412px;height:1px;background:#f6f6f6"></div>
<div class="abs" style="left:256px;top:645.3px;width:412px;height:1px;background:#f6f6f6"></div>
<div class="t" style="left:260.30px;top:606.57px;font-size:11.5px;line-height:11.5px;color:#3a3a3a;transform:scaleX(0.9559);">w/RVUs</div>
<div class="t" style="left:440.00px;top:606.57px;font-size:11.5px;line-height:11.5px;color:#3a3a3a;transform:scaleX(0.9666);">274.48</div>
<div class="t" style="left:507.25px;top:606.57px;font-size:11.5px;line-height:11.5px;color:#9a9a9a;transform:scaleX(1.0172);">N/A</div>
<div class="t" style="left:567.25px;top:606.57px;font-size:11.5px;line-height:11.5px;color:#9a9a9a;transform:scaleX(1.0172);">N/A</div>
<div class="t" style="left:627.25px;top:606.57px;font-size:11.5px;line-height:11.5px;color:#9a9a9a;transform:scaleX(1.0172);">N/A</div>
<div class="t" style="left:260.30px;top:629.27px;font-size:11.5px;line-height:11.5px;color:#3a3a3a;transform:scaleX(0.9052);">Gross Charges</div>
<div class="t" style="left:444.50px;top:629.27px;font-size:11.5px;line-height:11.5px;color:#3a3a3a;transform:scaleX(0.9772);">3503</div>
<div class="t" style="left:504.50px;top:629.27px;font-size:11.5px;line-height:11.5px;color:#3a3a3a;transform:scaleX(0.9772);">3153</div>
<div class="t" style="left:556.75px;top:629.27px;font-size:11.5px;line-height:11.5px;color:#3a3a3a;transform:scaleX(0.9743);">3216.06</div>
<div class="t" style="left:623.45px;top:629.27px;font-size:11.5px;line-height:11.5px;color:#3c8d47;transform:scaleX(0.8950);">12%</div>
<svg class="sv" width="1892" height="774"><path d="M648.0 639.9v-9.6m-2.7 3.3l2.7-3.5l2.7 3.5" stroke="#2d7a3a" stroke-width="1.5" fill="none"/></svg>
<div class="t" style="left:260.30px;top:651.97px;font-size:11.5px;line-height:11.5px;color:#3a3a3a;transform:scaleX(0.9633);">Net Collections</div>
<div class="t" style="left:444.50px;top:651.97px;font-size:11.5px;line-height:11.5px;color:#3a3a3a;transform:scaleX(0.9772);">3714</div>
<div class="t" style="left:504.50px;top:651.97px;font-size:11.5px;line-height:11.5px;color:#3a3a3a;transform:scaleX(0.9772);">3564</div>
<div class="t" style="left:556.75px;top:651.97px;font-size:11.5px;line-height:11.5px;color:#3a3a3a;transform:scaleX(0.9743);">3635.28</div>
<div class="t" style="left:626.50px;top:651.97px;font-size:11.5px;line-height:11.5px;color:#3c8d47;transform:scaleX(0.8724);">5%</div>
<svg class="sv" width="1892" height="774"><path d="M644.9 662.6v-9.6m-2.7 3.3l2.7-3.5l2.7 3.5" stroke="#2d7a3a" stroke-width="1.5" fill="none"/></svg>
<div class="card" style="left:672px;top:145px;width:248px;height:181px"></div>
<div class="t" style="left:680.00px;top:155.99px;font-size:11px;line-height:11px;color:#a41f48;transform:scaleX(1.1363);">Visits Per Session</div>
<svg class="sv" width="1892" height="774" viewBox="0 0 1892 774"><path d="M721.14 175.60V303.60M738.78 175.60V303.60M756.42 175.60V303.60M774.07 175.60V303.60M791.71 175.60V303.60M809.35 175.60V303.60M826.99 175.60V303.60M844.63 175.60V303.60M862.28 175.60V303.60M879.92 175.60V303.60M897.56 175.60V303.60M915.20 175.60V303.60M703.50 175.60H915.20M703.50 191.60H915.20M703.50 207.60H915.20M703.50 223.60H915.20M703.50 239.60H915.20M703.50 255.60H915.20M703.50 271.60H915.20M703.50 287.60H915.20" stroke="#e0e0e0" stroke-width="1" fill="none"/><path d="M703.50 175.60V303.60M703.50 303.60H915.20M703.50 303.60v4.5M721.14 303.60v4.5M738.78 303.60v4.5M756.42 303.60v4.5M774.07 303.60v4.5M791.71 303.60v4.5M809.35 303.60v4.5M826.99 303.60v4.5M844.63 303.60v4.5M862.28 303.60v4.5M879.92 303.60v4.5M897.56 303.60v4.5M915.20 303.60v4.5M703.50 175.60h-4M703.50 191.60h-4M703.50 207.60h-4M703.50 223.60h-4M703.50 239.60h-4M703.50 255.60h-4M703.50 271.60h-4M703.50 287.60h-4M703.50 303.60h-4" stroke="#858585" stroke-width="1" fill="none"/><path d="M888.50 175.60V303.60" stroke="#b32d36" stroke-width="1.3" fill="none"/><path d="M888.74 182.00L906.38 254.00" stroke="#2a8cc4" stroke-width="1.3" fill="none"/><circle cx="888.74" cy="182.00" r="2.4" fill="#3a5f93"/><circle cx="906.38" cy="254.00" r="2.4" fill="#1f8ac8"/></svg>
<div class="t" style="left:678.12px;top:299.95px;font-size:7.5px;line-height:7.5px;color:#a0a0a0;transform:scaleX(1.0300);">3420</div>
<div class="t" style="left:678.12px;top:283.95px;font-size:7.5px;line-height:7.5px;color:#a0a0a0;transform:scaleX(1.0300);">3440</div>
<div class="t" style="left:678.12px;top:267.95px;font-size:7.5px;line-height:7.5px;color:#a0a0a0;transform:scaleX(1.0300);">3460</div>
<div class="t" style="left:678.12px;top:251.95px;font-size:7.5px;line-height:7.5px;color:#a0a0a0;transform:scaleX(1.0300);">3480</div>
<div class="t" style="left:678.12px;top:235.95px;font-size:7.5px;line-height:7.5px;color:#a0a0a0;transform:scaleX(1.0300);">3500</div>
<div class="t" style="left:678.12px;top:219.95px;font-size:7.5px;line-height:7.5px;color:#a0a0a0;transform:scaleX(1.0300);">3520</div>
<div class="t" style="left:678.12px;top:203.95px;font-size:7.5px;line-height:7.5px;color:#a0a0a0;transform:scaleX(1.0300);">3540</div>
<div class="t" style="left:678.12px;top:187.95px;font-size:7.5px;line-height:7.5px;color:#a0a0a0;transform:scaleX(1.0300);">3560</div>
<div class="t" style="left:678.12px;top:171.95px;font-size:7.5px;line-height:7.5px;color:#a0a0a0;transform:scaleX(1.0300);">3580</div>
<div class="t" style="left:710.24px;top:314.45px;font-size:7.5px;line-height:7.5px;color:#a0a0a0;">3</div>
<div class="t" style="left:727.88px;top:314.45px;font-size:7.5px;line-height:7.5px;color:#a0a0a0;">4</div>
<div class="t" style="left:745.52px;top:314.45px;font-size:7.5px;line-height:7.5px;color:#a0a0a0;">5</div>
<div class="t" style="left:763.16px;top:314.45px;font-size:7.5px;line-height:7.5px;color:#a0a0a0;">6</div>
<div class="t" style="left:780.80px;top:314.45px;font-size:7.5px;line-height:7.5px;color:#a0a0a0;">7</div>
<div class="t" style="left:798.44px;top:314.45px;font-size:7.5px;line-height:7.5px;color:#a0a0a0;">8</div>
<div class="t" style="left:816.09px;top:314.45px;font-size:7.5px;line-height:7.5px;color:#a0a0a0;">9</div>
<div class="t" style="left:831.31px;top:314.45px;font-size:7.5px;line-height:7.5px;color:#a0a0a0;transform:scaleX(1.0800);">10</div>
<div class="t" style="left:849.25px;top:314.45px;font-size:7.5px;line-height:7.5px;color:#a0a0a0;transform:scaleX(1.0800);">11</div>
<div class="t" style="left:866.59px;top:314.45px;font-size:7.5px;line-height:7.5px;color:#a0a0a0;transform:scaleX(1.0800);">12</div>
<div class="t" style="left:886.65px;top:314.45px;font-size:7.5px;line-height:7.5px;color:#a0a0a0;">1</div>
<div class="t" style="left:904.29px;top:314.45px;font-size:7.5px;line-height:7.5px;color:#a0a0a0;">2</div>
<div class="card" style="left:926px;top:145px;width:248px;height:181px"></div>
<div class="t" style="left:934.00px;top:155.99px;font-size:11px;line-height:11px;color:#a41f48;transform:scaleX(1.1576);">Completed Visits (UTC)</div>
<svg class="sv" width="1892" height="774" viewBox="0 0 1892 774"><path d="M975.14 175.60V303.60M992.78 175.60V303.60M1010.42 175.60V303.60M1028.07 175.60V303.60M1045.71 175.60V303.60M1063.35 175.60V303.60M1080.99 175.60V303.60M1098.63 175.60V303.60M1116.28 175.60V303.60M1133.92 175.60V303.60M1151.56 175.60V303.60M1169.20 175.60V303.60M957.50 175.60H1169.20M957.50 188.40H1169.20M957.50 201.20H1169.20M957.50 214.00H1169.20M957.50 226.80H1169.20M957.50 239.60H1169.20M957.50 252.40H1169.20M957.50 265.20H1169.20M957.50 278.00H1169.20M957.50 290.80H1169.20" stroke="#e0e0e0" stroke-width="1" fill="none"/><path d="M957.50 175.60V303.60M957.50 303.60H1169.20M957.50 303.60v4.5M975.14 303.60v4.5M992.78 303.60v4.5M1010.42 303.60v4.5M1028.07 303.60v4.5M1045.71 303.60v4.5M1063.35 303.60v4.5M1080.99 303.60v4.5M1098.63 303.60v4.5M1116.28 303.60v4.5M1133.92 303.60v4.5M1151.56 303.60v4.5M1169.20 303.60v4.5M957.50 175.60h-4M957.50 188.40h-4M957.50 201.20h-4M957.50 214.00h-4M957.50 226.80h-4M957.50 239.60h-4M957.50 252.40h-4M957.50 265.20h-4M957.50 278.00h-4M957.50 290.80h-4M957.50 303.60h-4" stroke="#858585" stroke-width="1" fill="none"/><path d="M1142.50 175.60V303.60" stroke="#b32d36" stroke-width="1.3" fill="none"/><path d="M1142.74 260.08L1160.38 190.96" stroke="#2a8cc4" stroke-width="1.3" fill="none"/><circle cx="1142.74" cy="260.08" r="2.4" fill="#3a5f93"/><circle cx="1160.38" cy="190.96" r="2.4" fill="#1f8ac8"/></svg>
<div class="t" style="left:932.12px;top:299.95px;font-size:7.5px;line-height:7.5px;color:#a0a0a0;transform:scaleX(1.0300);">3535</div>
<div class="t" style="left:932.12px;top:287.15px;font-size:7.5px;line-height:7.5px;color:#a0a0a0;transform:scaleX(1.0300);">3540</div>
<div class="t" style="left:932.12px;top:274.35px;font-size:7.5px;line-height:7.5px;color:#a0a0a0;transform:scaleX(1.0300);">3545</div>
<div class="t" style="left:932.12px;top:261.55px;font-size:7.5px;line-height:7.5px;color:#a0a0a0;transform:scaleX(1.0300);">3550</div>
<div class="t" style="left:932.12px;top:248.75px;font-size:7.5px;line-height:7.5px;color:#a0a0a0;transform:scaleX(1.0300);">3555</div>
<div class="t" style="left:932.12px;top:235.95px;font-size:7.5px;line-height:7.5px;color:#a0a0a0;transform:scaleX(1.0300);">3560</div>
<div class="t" style="left:932.12px;top:223.15px;font-size:7.5px;line-height:7.5px;color:#a0a0a0;transform:scaleX(1.0300);">3565</div>
<div class="t" style="left:932.12px;top:210.35px;font-size:7.5px;line-height:7.5px;color:#a0a0a0;transform:scaleX(1.0300);">3570</div>
<div class="t" style="left:932.12px;top:197.55px;font-size:7.5px;line-height:7.5px;color:#a0a0a0;transform:scaleX(1.0300);">3575</div>
<div class="t" style="left:932.12px;top:184.75px;font-size:7.5px;line-height:7.5px;color:#a0a0a0;transform:scaleX(1.0300);">3580</div>
<div class="t" style="left:932.12px;top:171.95px;font-size:7.5px;line-height:7.5px;color:#a0a0a0;transform:scaleX(1.0300);">3585</div>
<div class="t" style="left:964.24px;top:314.45px;font-size:7.5px;line-height:7.5px;color:#a0a0a0;">3</div>
<div class="t" style="left:981.88px;top:314.45px;font-size:7.5px;line-height:7.5px;color:#a0a0a0;">4</div>
<div class="t" style="left:999.52px;top:314.45px;font-size:7.5px;line-height:7.5px;color:#a0a0a0;">5</div>
<div class="t" style="left:1017.16px;top:314.45px;font-size:7.5px;line-height:7.5px;color:#a0a0a0;">6</div>
<div class="t" style="left:1034.80px;top:314.45px;font-size:7.5px;line-height:7.5px;color:#a0a0a0;">7</div>
<div class="t" style="left:1052.44px;top:314.45px;font-size:7.5px;line-height:7.5px;color:#a0a0a0;">8</div>
<div class="t" style="left:1070.09px;top:314.45px;font-size:7.5px;line-height:7.5px;color:#a0a0a0;">9</div>
<div class="t" style="left:1085.31px;top:314.45px;font-size:7.5px;line-height:7.5px;color:#a0a0a0;transform:scaleX(1.0800);">10</div>
<div class="t" style="left:1103.25px;top:314.45px;font-size:7.5px;line-height:7.5px;color:#a0a0a0;transform:scaleX(1.0800);">11</div>
<div class="t" style="left:1120.59px;top:314.45px;font-size:7.5px;line-height:7.5px;color:#a0a0a0;transform:scaleX(1.0800);">12</div>
<div class="t" style="left:1140.65px;top:314.45px;font-size:7.5px;line-height:7.5px;color:#a0a0a0;">1</div>
<div class="t" style="left:1158.29px;top:314.45px;font-size:7.5px;line-height:7.5px;color:#a0a0a0;">2</div>
<div class="card" style="left:1181px;top:145px;width:248px;height:181px"></div>
<div class="t" style="left:1189.00px;top:155.99px;font-size:11px;line-height:11px;color:#a41f48;transform:scaleX(1.1550);">Session (Actual)</div>
<svg class="sv" width="1892" height="774" viewBox="0 0 1892 774"><path d="M1230.14 175.60V303.60M1247.78 175.60V303.60M1265.42 175.60V303.60M1283.07 175.60V303.60M1300.71 175.60V303.60M1318.35 175.60V303.60M1335.99 175.60V303.60M1353.63 175.60V303.60M1371.28 175.60V303.60M1388.92 175.60V303.60M1406.56 175.60V303.60M1424.20 175.60V303.60M1212.50 175.60H1424.20M1212.50 201.20H1424.20M1212.50 226.80H1424.20M1212.50 252.40H1424.20M1212.50 278.00H1424.20" stroke="#e0e0e0" stroke-width="1" fill="none"/><path d="M1212.50 175.60V303.60M1212.50 303.60H1424.20M1212.50 303.60v4.5M1230.14 303.60v4.5M1247.78 303.60v4.5M1265.42 303.60v4.5M1283.07 303.60v4.5M1300.71 303.60v4.5M1318.35 303.60v4.5M1335.99 303.60v4.5M1353.63 303.60v4.5M1371.28 303.60v4.5M1388.92 303.60v4.5M1406.56 303.60v4.5M1424.20 303.60v4.5M1212.50 175.60h-4M1212.50 201.20h-4M1212.50 226.80h-4M1212.50 252.40h-4M1212.50 278.00h-4M1212.50 303.60h-4" stroke="#858585" stroke-width="1" fill="none"/><path d="M1397.50 175.60V303.60" stroke="#b32d36" stroke-width="1.3" fill="none"/><path d="M1397.74 192.50L1415.38 263.66" stroke="#2a8cc4" stroke-width="1.3" fill="none"/><circle cx="1397.74" cy="192.50" r="2.4" fill="#3a5f93"/><circle cx="1415.38" cy="263.66" r="2.4" fill="#1f8ac8"/></svg>
<div class="t" style="left:1187.12px;top:299.95px;font-size:7.5px;line-height:7.5px;color:#a0a0a0;transform:scaleX(1.0300);">3250</div>
<div class="t" style="left:1187.12px;top:274.35px;font-size:7.5px;line-height:7.5px;color:#a0a0a0;transform:scaleX(1.0300);">3300</div>
<div class="t" style="left:1187.12px;top:248.75px;font-size:7.5px;line-height:7.5px;color:#a0a0a0;transform:scaleX(1.0300);">3350</div>
<div class="t" style="left:1187.12px;top:223.15px;font-size:7.5px;line-height:7.5px;color:#a0a0a0;transform:scaleX(1.0300);">3400</div>
<div class="t" style="left:1187.12px;top:197.55px;font-size:7.5px;line-height:7.5px;color:#a0a0a0;transform:scaleX(1.0300);">3450</div>
<div class="t" style="left:1187.12px;top:171.95px;font-size:7.5px;line-height:7.5px;color:#a0a0a0;transform:scaleX(1.0300);">3500</div>
<div class="t" style="left:1219.24px;top:314.45px;font-size:7.5px;line-height:7.5px;color:#a0a0a0;">3</div>
<div class="t" style="left:1236.88px;top:314.45px;font-size:7.5px;line-height:7.5px;color:#a0a0a0;">4</div>
<div class="t" style="left:1254.52px;top:314.45px;font-size:7.5px;line-height:7.5px;color:#a0a0a0;">5</div>
<div class="t" style="left:1272.16px;top:314.45px;font-size:7.5px;line-height:7.5px;color:#a0a0a0;">6</div>
<div class="t" style="left:1289.80px;top:314.45px;font-size:7.5px;line-height:7.5px;color:#a0a0a0;">7</div>
<div class="t" style="left:1307.44px;top:314.45px;font-size:7.5px;line-height:7.5px;color:#a0a0a0;">8</div>
<div class="t" style="left:1325.09px;top:314.45px;font-size:7.5px;line-height:7.5px;color:#a0a0a0;">9</div>
<div class="t" style="left:1340.31px;top:314.45px;font-size:7.5px;line-height:7.5px;color:#a0a0a0;transform:scaleX(1.0800);">10</div>
<div class="t" style="left:1358.25px;top:314.45px;font-size:7.5px;line-height:7.5px;color:#a0a0a0;transform:scaleX(1.0800);">11</div>
<div class="t" style="left:1375.59px;top:314.45px;font-size:7.5px;line-height:7.5px;color:#a0a0a0;transform:scaleX(1.0800);">12</div>
<div class="t" style="left:1395.65px;top:314.45px;font-size:7.5px;line-height:7.5px;color:#a0a0a0;">1</div>
<div class="t" style="left:1413.29px;top:314.45px;font-size:7.5px;line-height:7.5px;color:#a0a0a0;">2</div>
<div class="card" style="left:257px;top:340px;width:248px;height:181px"></div>
<div class="t" style="left:265.00px;top:350.99px;font-size:11px;line-height:11px;color:#a41f48;transform:scaleX(1.1310);">No Show %</div>
<svg class="sv" width="1892" height="774" viewBox="0 0 1892 774"><path d="M298.81 370.60V498.60M317.12 370.60V498.60M335.43 370.60V498.60M353.73 370.60V498.60M372.04 370.60V498.60M390.35 370.60V498.60M408.66 370.60V498.60M426.97 370.60V498.60M445.27 370.60V498.60M463.58 370.60V498.60M481.89 370.60V498.60M500.20 370.60V498.60M280.50 370.60H500.20M280.50 391.93H500.20M280.50 413.27H500.20M280.50 434.60H500.20M280.50 455.93H500.20M280.50 477.27H500.20" stroke="#e0e0e0" stroke-width="1" fill="none"/><path d="M280.50 370.60V498.60M280.50 498.60H500.20M280.50 498.60v4.5M298.81 498.60v4.5M317.12 498.60v4.5M335.43 498.60v4.5M353.73 498.60v4.5M372.04 498.60v4.5M390.35 498.60v4.5M408.66 498.60v4.5M426.97 498.60v4.5M445.27 498.60v4.5M463.58 498.60v4.5M481.89 498.60v4.5M500.20 498.60v4.5M280.50 370.60h-4M280.50 391.93h-4M280.50 413.27h-4M280.50 434.60h-4M280.50 455.93h-4M280.50 477.27h-4M280.50 498.60h-4" stroke="#858585" stroke-width="1" fill="none"/><path d="M472.50 370.60V498.60" stroke="#b32d36" stroke-width="1.3" fill="none"/><path d="M472.74 387.67L491.05 391.93" stroke="#2a8cc4" stroke-width="1.3" fill="none"/><path d="M472.74 487.93L491.05 487.93" stroke="#2a8cc4" stroke-width="1.3" fill="none" stroke-dasharray="5 3"/><circle cx="472.74" cy="387.67" r="2.4" fill="#3a5f93"/><circle cx="491.05" cy="391.93" r="2.4" fill="#1f8ac8"/><circle cx="472.74" cy="487.93" r="2.4" fill="#3a5f93"/><circle cx="491.05" cy="487.93" r="2.4" fill="#1f8ac8"/></svg>
<div class="t" style="left:268.00px;top:494.95px;font-size:7.5px;line-height:7.5px;color:#a0a0a0;transform:scaleX(1.0300);">0</div>
<div class="t" style="left:263.71px;top:473.62px;font-size:7.5px;line-height:7.5px;color:#a0a0a0;transform:scaleX(1.0300);">10</div>
<div class="t" style="left:263.71px;top:452.28px;font-size:7.5px;line-height:7.5px;color:#a0a0a0;transform:scaleX(1.0300);">20</div>
<div class="t" style="left:263.71px;top:430.95px;font-size:7.5px;line-height:7.5px;color:#a0a0a0;transform:scaleX(1.0300);">30</div>
<div class="t" style="left:263.71px;top:409.62px;font-size:7.5px;line-height:7.5px;color:#a0a0a0;transform:scaleX(1.0300);">40</div>
<div class="t" style="left:263.71px;top:388.28px;font-size:7.5px;line-height:7.5px;color:#a0a0a0;transform:scaleX(1.0300);">50</div>
<div class="t" style="left:263.71px;top:366.95px;font-size:7.5px;line-height:7.5px;color:#a0a0a0;transform:scaleX(1.0300);">60</div>
<div class="t" style="left:287.57px;top:509.45px;font-size:7.5px;line-height:7.5px;color:#a0a0a0;">3</div>
<div class="t" style="left:305.88px;top:509.45px;font-size:7.5px;line-height:7.5px;color:#a0a0a0;">4</div>
<div class="t" style="left:324.19px;top:509.45px;font-size:7.5px;line-height:7.5px;color:#a0a0a0;">5</div>
<div class="t" style="left:342.49px;top:509.45px;font-size:7.5px;line-height:7.5px;color:#a0a0a0;">6</div>
<div class="t" style="left:360.80px;top:509.45px;font-size:7.5px;line-height:7.5px;color:#a0a0a0;">7</div>
<div class="t" style="left:379.11px;top:509.45px;font-size:7.5px;line-height:7.5px;color:#a0a0a0;">8</div>
<div class="t" style="left:397.42px;top:509.45px;font-size:7.5px;line-height:7.5px;color:#a0a0a0;">9</div>
<div class="t" style="left:413.31px;top:509.45px;font-size:7.5px;line-height:7.5px;color:#a0a0a0;transform:scaleX(1.0800);">10</div>
<div class="t" style="left:431.92px;top:509.45px;font-size:7.5px;line-height:7.5px;color:#a0a0a0;transform:scaleX(1.0800);">11</div>
<div class="t" style="left:449.92px;top:509.45px;font-size:7.5px;line-height:7.5px;color:#a0a0a0;transform:scaleX(1.0800);">12</div>
<div class="t" style="left:470.65px;top:509.45px;font-size:7.5px;line-height:7.5px;color:#a0a0a0;">1</div>
<div class="t" style="left:488.96px;top:509.45px;font-size:7.5px;line-height:7.5px;color:#a0a0a0;">2</div>
<div class="card" style="left:512px;top:340px;width:248px;height:181px"></div>
<div class="t" style="left:520.00px;top:350.99px;font-size:11px;line-height:11px;color:#a41f48;transform:scaleX(1.1627);">Same Day Cancel %</div>
<svg class="sv" width="1892" height="774" viewBox="0 0 1892 774"><path d="M553.81 370.60V498.60M572.12 370.60V498.60M590.42 370.60V498.60M608.73 370.60V498.60M627.04 370.60V498.60M645.35 370.60V498.60M663.66 370.60V498.60M681.97 370.60V498.60M700.28 370.60V498.60M718.58 370.60V498.60M736.89 370.60V498.60M755.20 370.60V498.60M535.50 370.60H755.20M535.50 391.93H755.20M535.50 413.27H755.20M535.50 434.60H755.20M535.50 455.93H755.20M535.50 477.27H755.20" stroke="#e0e0e0" stroke-width="1" fill="none"/><path d="M535.50 370.60V498.60M535.50 498.60H755.20M535.50 498.60v4.5M553.81 498.60v4.5M572.12 498.60v4.5M590.42 498.60v4.5M608.73 498.60v4.5M627.04 498.60v4.5M645.35 498.60v4.5M663.66 498.60v4.5M681.97 498.60v4.5M700.28 498.60v4.5M718.58 498.60v4.5M736.89 498.60v4.5M755.20 498.60v4.5M535.50 370.60h-4M535.50 391.93h-4M535.50 413.27h-4M535.50 434.60h-4M535.50 455.93h-4M535.50 477.27h-4M535.50 498.60h-4" stroke="#858585" stroke-width="1" fill="none"/><path d="M727.50 370.60V498.60" stroke="#b32d36" stroke-width="1.3" fill="none"/><path d="M727.74 389.80L746.05 400.47" stroke="#2a8cc4" stroke-width="1.3" fill="none"/><path d="M727.74 487.93L746.05 487.93" stroke="#2a8cc4" stroke-width="1.3" fill="none" stroke-dasharray="5 3"/><circle cx="727.74" cy="389.80" r="2.4" fill="#3a5f93"/><circle cx="746.05" cy="400.47" r="2.4" fill="#1f8ac8"/><circle cx="727.74" cy="487.93" r="2.4" fill="#3a5f93"/><circle cx="746.05" cy="487.93" r="2.4" fill="#1f8ac8"/></svg>
<div class="t" style="left:523.00px;top:494.95px;font-size:7.5px;line-height:7.5px;color:#a0a0a0;transform:scaleX(1.0300);">0</div>
<div class="t" style="left:518.71px;top:473.62px;font-size:7.5px;line-height:7.5px;color:#a0a0a0;transform:scaleX(1.0300);">10</div>
<div class="t" style="left:518.71px;top:452.28px;font-size:7.5px;line-height:7.5px;color:#a0a0a0;transform:scaleX(1.0300);">20</div>
<div class="t" style="left:518.71px;top:430.95px;font-size:7.5px;line-height:7.5px;color:#a0a0a0;transform:scaleX(1.0300);">30</div>
<div class="t" style="left:518.71px;top:409.62px;font-size:7.5px;line-height:7.5px;color:#a0a0a0;transform:scaleX(1.0300);">40</div>
<div class="t" style="left:518.71px;top:388.28px;font-size:7.5px;line-height:7.5px;color:#a0a0a0;transform:scaleX(1.0300);">50</div>
<div class="t" style="left:518.71px;top:366.95px;font-size:7.5px;line-height:7.5px;color:#a0a0a0;transform:scaleX(1.0300);">60</div>
<div class="t" style="left:542.57px;top:509.45px;font-size:7.5px;line-height:7.5px;color:#a0a0a0;">3</div>
<div class="t" style="left:560.88px;top:509.45px;font-size:7.5px;line-height:7.5px;color:#a0a0a0;">4</div>
<div class="t" style="left:579.19px;top:509.45px;font-size:7.5px;line-height:7.5px;color:#a0a0a0;">5</div>
<div class="t" style="left:597.49px;top:509.45px;font-size:7.5px;line-height:7.5px;color:#a0a0a0;">6</div>
<div class="t" style="left:615.80px;top:509.45px;font-size:7.5px;line-height:7.5px;color:#a0a0a0;">7</div>
<div class="t" style="left:634.11px;top:509.45px;font-size:7.5px;line-height:7.5px;color:#a0a0a0;">8</div>
<div class="t" style="left:652.42px;top:509.45px;font-size:7.5px;line-height:7.5px;color:#a0a0a0;">9</div>
<div class="t" style="left:668.31px;top:509.45px;font-size:7.5px;line-height:7.5px;color:#a0a0a0;transform:scaleX(1.0800);">10</div>
<div class="t" style="left:686.92px;top:509.45px;font-size:7.5px;line-height:7.5px;color:#a0a0a0;transform:scaleX(1.0800);">11</div>
<div class="t" style="left:704.92px;top:509.45px;font-size:7.5px;line-height:7.5px;color:#a0a0a0;transform:scaleX(1.0800);">12</div>
<div class="t" style="left:725.65px;top:509.45px;font-size:7.5px;line-height:7.5px;color:#a0a0a0;">1</div>
<div class="t" style="left:743.96px;top:509.45px;font-size:7.5px;line-height:7.5px;color:#a0a0a0;">2</div>
<div class="card" style="left:766px;top:340px;width:248px;height:181px"></div>
<div class="t" style="left:774.00px;top:350.99px;font-size:11px;line-height:11px;color:#a41f48;transform:scaleX(1.1283);">Openings Per Session</div>
<svg class="sv" width="1892" height="774" viewBox="0 0 1892 774"><path d="M821.92 370.60V498.60M838.95 370.60V498.60M855.98 370.60V498.60M873.00 370.60V498.60M890.02 370.60V498.60M907.05 370.60V498.60M924.08 370.60V498.60M941.10 370.60V498.60M958.12 370.60V498.60M975.15 370.60V498.60M992.18 370.60V498.60M1009.20 370.60V498.60M804.90 370.60H1009.20M804.90 383.40H1009.20M804.90 396.20H1009.20M804.90 409.00H1009.20M804.90 421.80H1009.20M804.90 434.60H1009.20M804.90 447.40H1009.20M804.90 460.20H1009.20M804.90 473.00H1009.20M804.90 485.80H1009.20" stroke="#e0e0e0" stroke-width="1" fill="none"/><path d="M804.90 370.60V498.60M804.90 498.60H1009.20M804.90 498.60v4.5M821.92 498.60v4.5M838.95 498.60v4.5M855.98 498.60v4.5M873.00 498.60v4.5M890.02 498.60v4.5M907.05 498.60v4.5M924.08 498.60v4.5M941.10 498.60v4.5M958.12 498.60v4.5M975.15 498.60v4.5M992.18 498.60v4.5M1009.20 498.60v4.5M804.90 370.60h-4M804.90 383.40h-4M804.90 396.20h-4M804.90 409.00h-4M804.90 421.80h-4M804.90 434.60h-4M804.90 447.40h-4M804.90 460.20h-4M804.90 473.00h-4M804.90 485.80h-4M804.90 498.60h-4" stroke="#858585" stroke-width="1" fill="none"/><path d="M983.50 370.60V498.60" stroke="#b32d36" stroke-width="1.3" fill="none"/><path d="M983.66 383.40L1000.69 460.20" stroke="#2a8cc4" stroke-width="1.3" fill="none"/><circle cx="983.66" cy="383.40" r="2.4" fill="#3a5f93"/><circle cx="1000.69" cy="460.20" r="2.4" fill="#1f8ac8"/></svg>
<div class="t" style="left:771.24px;top:494.95px;font-size:7.5px;line-height:7.5px;color:#a0a0a0;transform:scaleX(1.1100);">3550.5</div>
<div class="t" style="left:779.52px;top:482.15px;font-size:7.5px;line-height:7.5px;color:#a0a0a0;transform:scaleX(1.0300);">3551</div>
<div class="t" style="left:771.24px;top:469.35px;font-size:7.5px;line-height:7.5px;color:#a0a0a0;transform:scaleX(1.1100);">3551.5</div>
<div class="t" style="left:779.52px;top:456.55px;font-size:7.5px;line-height:7.5px;color:#a0a0a0;transform:scaleX(1.0300);">3552</div>
<div class="t" style="left:771.24px;top:443.75px;font-size:7.5px;line-height:7.5px;color:#a0a0a0;transform:scaleX(1.1100);">3552.5</div>
<div class="t" style="left:779.52px;top:430.95px;font-size:7.5px;line-height:7.5px;color:#a0a0a0;transform:scaleX(1.0300);">3553</div>
<div class="t" style="left:771.24px;top:418.15px;font-size:7.5px;line-height:7.5px;color:#a0a0a0;transform:scaleX(1.1100);">3553.5</div>
<div class="t" style="left:779.52px;top:405.35px;font-size:7.5px;line-height:7.5px;color:#a0a0a0;transform:scaleX(1.0300);">3554</div>
<div class="t" style="left:771.24px;top:392.55px;font-size:7.5px;line-height:7.5px;color:#a0a0a0;transform:scaleX(1.1100);">3554.5</div>
<div class="t" style="left:779.52px;top:379.75px;font-size:7.5px;line-height:7.5px;color:#a0a0a0;transform:scaleX(1.0300);">3555</div>
<div class="t" style="left:771.24px;top:366.95px;font-size:7.5px;line-height:7.5px;color:#a0a0a0;transform:scaleX(1.1100);">3555.5</div>
<div class="t" style="left:811.33px;top:509.45px;font-size:7.5px;line-height:7.5px;color:#a0a0a0;">3</div>
<div class="t" style="left:828.35px;top:509.45px;font-size:7.5px;line-height:7.5px;color:#a0a0a0;">4</div>
<div class="t" style="left:845.38px;top:509.45px;font-size:7.5px;line-height:7.5px;color:#a0a0a0;">5</div>
<div class="t" style="left:862.40px;top:509.45px;font-size:7.5px;line-height:7.5px;color:#a0a0a0;">6</div>
<div class="t" style="left:879.43px;top:509.45px;font-size:7.5px;line-height:7.5px;color:#a0a0a0;">7</div>
<div class="t" style="left:896.45px;top:509.45px;font-size:7.5px;line-height:7.5px;color:#a0a0a0;">8</div>
<div class="t" style="left:913.48px;top:509.45px;font-size:7.5px;line-height:7.5px;color:#a0a0a0;">9</div>
<div class="t" style="left:928.08px;top:509.45px;font-size:7.5px;line-height:7.5px;color:#a0a0a0;transform:scaleX(1.0800);">10</div>
<div class="t" style="left:945.41px;top:509.45px;font-size:7.5px;line-height:7.5px;color:#a0a0a0;transform:scaleX(1.0800);">11</div>
<div class="t" style="left:962.13px;top:509.45px;font-size:7.5px;line-height:7.5px;color:#a0a0a0;transform:scaleX(1.0800);">12</div>
<div class="t" style="left:981.58px;top:509.45px;font-size:7.5px;line-height:7.5px;color:#a0a0a0;">1</div>
<div class="t" style="left:998.60px;top:509.45px;font-size:7.5px;line-height:7.5px;color:#a0a0a0;">2</div>
<div class="card" style="left:672px;top:577px;width:248px;height:181px"></div>
<div class="t" style="left:680.00px;top:587.99px;font-size:11px;line-height:11px;color:#a41f48;transform:scaleX(1.1132);">w/RVUs</div>
<svg class="sv" width="1892" height="774" viewBox="0 0 1892 774"><path d="M717.48 607.60V735.60M735.45 607.60V735.60M753.42 607.60V735.60M771.40 607.60V735.60M789.38 607.60V735.60M807.35 607.60V735.60M825.33 607.60V735.60M843.30 607.60V735.60M861.28 607.60V735.60M879.25 607.60V735.60M897.23 607.60V735.60M915.20 607.60V735.60M699.50 607.60H915.20M699.50 628.93H915.20M699.50 650.27H915.20M699.50 671.60H915.20M699.50 692.93H915.20M699.50 714.27H915.20" stroke="#e0e0e0" stroke-width="1" fill="none"/><path d="M699.50 607.60V735.60M699.50 735.60H915.20M699.50 735.60v4.5M717.48 735.60v4.5M735.45 735.60v4.5M753.42 735.60v4.5M771.40 735.60v4.5M789.38 735.60v4.5M807.35 735.60v4.5M825.33 735.60v4.5M843.30 735.60v4.5M861.28 735.60v4.5M879.25 735.60v4.5M897.23 735.60v4.5M915.20 735.60v4.5M699.50 607.60h-4M699.50 628.93h-4M699.50 650.27h-4M699.50 671.60h-4M699.50 692.93h-4M699.50 714.27h-4M699.50 735.60h-4" stroke="#858585" stroke-width="1" fill="none"/><path d="M888.50 607.60V735.60" stroke="#b32d36" stroke-width="1.3" fill="none"/><path d="M798.36 670.32L888.24 661.36L906.21 618.48" stroke="#2a8cc4" stroke-width="1.3" fill="none"/><circle cx="798.36" cy="670.32" r="2.4" fill="#1f8ac8"/><circle cx="888.24" cy="661.36" r="2.4" fill="#3a5f93"/><circle cx="906.21" cy="618.48" r="2.4" fill="#1f8ac8"/></svg>
<div class="t" style="left:687.00px;top:731.95px;font-size:7.5px;line-height:7.5px;color:#a0a0a0;transform:scaleX(1.0300);">0</div>
<div class="t" style="left:682.71px;top:710.62px;font-size:7.5px;line-height:7.5px;color:#a0a0a0;transform:scaleX(1.0300);">50</div>
<div class="t" style="left:678.41px;top:689.28px;font-size:7.5px;line-height:7.5px;color:#a0a0a0;transform:scaleX(1.0300);">100</div>
<div class="t" style="left:678.41px;top:667.95px;font-size:7.5px;line-height:7.5px;color:#a0a0a0;transform:scaleX(1.0300);">150</div>
<div class="t" style="left:678.41px;top:646.62px;font-size:7.5px;line-height:7.5px;color:#a0a0a0;transform:scaleX(1.0300);">200</div>
<div class="t" style="left:678.41px;top:625.28px;font-size:7.5px;line-height:7.5px;color:#a0a0a0;transform:scaleX(1.0300);">250</div>
<div class="t" style="left:678.41px;top:603.95px;font-size:7.5px;line-height:7.5px;color:#a0a0a0;transform:scaleX(1.0300);">300</div>
<div class="t" style="left:706.40px;top:746.45px;font-size:7.5px;line-height:7.5px;color:#a0a0a0;">3</div>
<div class="t" style="left:724.38px;top:746.45px;font-size:7.5px;line-height:7.5px;color:#a0a0a0;">4</div>
<div class="t" style="left:742.35px;top:746.45px;font-size:7.5px;line-height:7.5px;color:#a0a0a0;">5</div>
<div class="t" style="left:760.33px;top:746.45px;font-size:7.5px;line-height:7.5px;color:#a0a0a0;">6</div>
<div class="t" style="left:778.30px;top:746.45px;font-size:7.5px;line-height:7.5px;color:#a0a0a0;">7</div>
<div class="t" style="left:796.28px;top:746.45px;font-size:7.5px;line-height:7.5px;color:#a0a0a0;">8</div>
<div class="t" style="left:814.25px;top:746.45px;font-size:7.5px;line-height:7.5px;color:#a0a0a0;">9</div>
<div class="t" style="left:829.81px;top:746.45px;font-size:7.5px;line-height:7.5px;color:#a0a0a0;transform:scaleX(1.0800);">10</div>
<div class="t" style="left:848.08px;top:746.45px;font-size:7.5px;line-height:7.5px;color:#a0a0a0;transform:scaleX(1.0800);">11</div>
<div class="t" style="left:865.76px;top:746.45px;font-size:7.5px;line-height:7.5px;color:#a0a0a0;transform:scaleX(1.0800);">12</div>
<div class="t" style="left:886.15px;top:746.45px;font-size:7.5px;line-height:7.5px;color:#a0a0a0;">1</div>
<div class="t" style="left:904.13px;top:746.45px;font-size:7.5px;line-height:7.5px;color:#a0a0a0;">2</div>
<div class="card" style="left:926px;top:577px;width:248px;height:181px"></div>
<div class="t" style="left:934.00px;top:587.99px;font-size:11px;line-height:11px;color:#a41f48;transform:scaleX(1.1491);">Gross Charges</div>
<svg class="sv" width="1892" height="774" viewBox="0 0 1892 774"><path d="M975.14 607.60V735.60M992.78 607.60V735.60M1010.42 607.60V735.60M1028.07 607.60V735.60M1045.71 607.60V735.60M1063.35 607.60V735.60M1080.99 607.60V735.60M1098.63 607.60V735.60M1116.28 607.60V735.60M1133.92 607.60V735.60M1151.56 607.60V735.60M1169.20 607.60V735.60M957.50 607.60H1169.20M957.50 620.40H1169.20M957.50 633.20H1169.20M957.50 646.00H1169.20M957.50 658.80H1169.20M957.50 671.60H1169.20M957.50 684.40H1169.20M957.50 697.20H1169.20M957.50 710.00H1169.20M957.50 722.80H1169.20" stroke="#e0e0e0" stroke-width="1" fill="none"/><path d="M957.50 607.60V735.60M957.50 735.60H1169.20M957.50 735.60v4.5M975.14 735.60v4.5M992.78 735.60v4.5M1010.42 735.60v4.5M1028.07 735.60v4.5M1045.71 735.60v4.5M1063.35 735.60v4.5M1080.99 735.60v4.5M1098.63 735.60v4.5M1116.28 735.60v4.5M1133.92 735.60v4.5M1151.56 735.60v4.5M1169.20 735.60v4.5M957.50 607.60h-4M957.50 620.40h-4M957.50 633.20h-4M957.50 646.00h-4M957.50 658.80h-4M957.50 671.60h-4M957.50 684.40h-4M957.50 697.20h-4M957.50 710.00h-4M957.50 722.80h-4M957.50 735.60h-4" stroke="#858585" stroke-width="1" fill="none"/><path d="M1142.50 607.60V735.60" stroke="#b32d36" stroke-width="1.3" fill="none"/><path d="M1142.74 655.47L1160.38 619.63" stroke="#2a8cc4" stroke-width="1.3" fill="none"/><path d="M1142.74 664.18L1160.38 693.10" stroke="#2a8cc4" stroke-width="1.3" fill="none" stroke-dasharray="5 3"/><circle cx="1142.74" cy="655.47" r="2.4" fill="#3a5f93"/><circle cx="1160.38" cy="619.63" r="2.4" fill="#1f8ac8"/><circle cx="1142.74" cy="664.18" r="2.4" fill="#3a5f93"/><circle cx="1160.38" cy="693.10" r="2.4" fill="#1f8ac8"/></svg>
<div class="t" style="left:932.12px;top:731.95px;font-size:7.5px;line-height:7.5px;color:#a0a0a0;transform:scaleX(1.0300);">3050</div>
<div class="t" style="left:932.12px;top:719.15px;font-size:7.5px;line-height:7.5px;color:#a0a0a0;transform:scaleX(1.0300);">3100</div>
<div class="t" style="left:932.12px;top:706.35px;font-size:7.5px;line-height:7.5px;color:#a0a0a0;transform:scaleX(1.0300);">3150</div>
<div class="t" style="left:932.12px;top:693.55px;font-size:7.5px;line-height:7.5px;color:#a0a0a0;transform:scaleX(1.0300);">3200</div>
<div class="t" style="left:932.12px;top:680.75px;font-size:7.5px;line-height:7.5px;color:#a0a0a0;transform:scaleX(1.0300);">3250</div>
<div class="t" style="left:932.12px;top:667.95px;font-size:7.5px;line-height:7.5px;color:#a0a0a0;transform:scaleX(1.0300);">3300</div>
<div class="t" style="left:932.12px;top:655.15px;font-size:7.5px;line-height:7.5px;color:#a0a0a0;transform:scaleX(1.0300);">3350</div>
<div class="t" style="left:932.12px;top:642.35px;font-size:7.5px;line-height:7.5px;color:#a0a0a0;transform:scaleX(1.0300);">3400</div>
<div class="t" style="left:932.12px;top:629.55px;font-size:7.5px;line-height:7.5px;color:#a0a0a0;transform:scaleX(1.0300);">3450</div>
<div class="t" style="left:932.12px;top:616.75px;font-size:7.5px;line-height:7.5px;color:#a0a0a0;transform:scaleX(1.0300);">3500</div>
<div class="t" style="left:932.12px;top:603.95px;font-size:7.5px;line-height:7.5px;color:#a0a0a0;transform:scaleX(1.0300);">3550</div>
<div class="t" style="left:964.24px;top:746.45px;font-size:7.5px;line-height:7.5px;color:#a0a0a0;">3</div>
<div class="t" style="left:981.88px;top:746.45px;font-size:7.5px;line-height:7.5px;color:#a0a0a0;">4</div>
<div class="t" style="left:999.52px;top:746.45px;font-size:7.5px;line-height:7.5px;color:#a0a0a0;">5</div>
<div class="t" style="left:1017.16px;top:746.45px;font-size:7.5px;line-height:7.5px;color:#a0a0a0;">6</div>
<div class="t" style="left:1034.80px;top:746.45px;font-size:7.5px;line-height:7.5px;color:#a0a0a0;">7</div>
<div class="t" style="left:1052.44px;top:746.45px;font-size:7.5px;line-height:7.5px;color:#a0a0a0;">8</div>
<div class="t" style="left:1070.09px;top:746.45px;font-size:7.5px;line-height:7.5px;color:#a0a0a0;">9</div>
<div class="t" style="left:1085.31px;top:746.45px;font-size:7.5px;line-height:7.5px;color:#a0a0a0;transform:scaleX(1.0800);">10</div>
<div class="t" style="left:1103.25px;top:746.45px;font-size:7.5px;line-height:7.5px;color:#a0a0a0;transform:scaleX(1.0800);">11</div>
<div class="t" style="left:1120.59px;top:746.45px;font-size:7.5px;line-height:7.5px;color:#a0a0a0;transform:scaleX(1.0800);">12</div>
<div class="t" style="left:1140.65px;top:746.45px;font-size:7.5px;line-height:7.5px;color:#a0a0a0;">1</div>
<div class="t" style="left:1158.29px;top:746.45px;font-size:7.5px;line-height:7.5px;color:#a0a0a0;">2</div>
<div class="card" style="left:1181px;top:577px;width:248px;height:181px"></div>
<div class="t" style="left:1189.00px;top:587.99px;font-size:11px;line-height:11px;color:#a41f48;transform:scaleX(1.1490);">Net Collections</div>
<svg class="sv" width="1892" height="774" viewBox="0 0 1892 774"><path d="M1230.14 607.60V735.60M1247.78 607.60V735.60M1265.42 607.60V735.60M1283.07 607.60V735.60M1300.71 607.60V735.60M1318.35 607.60V735.60M1335.99 607.60V735.60M1353.63 607.60V735.60M1371.28 607.60V735.60M1388.92 607.60V735.60M1406.56 607.60V735.60M1424.20 607.60V735.60M1212.50 607.60H1424.20M1212.50 633.20H1424.20M1212.50 658.80H1424.20M1212.50 684.40H1424.20M1212.50 710.00H1424.20" stroke="#e0e0e0" stroke-width="1" fill="none"/><path d="M1212.50 607.60V735.60M1212.50 735.60H1424.20M1212.50 735.60v4.5M1230.14 735.60v4.5M1247.78 735.60v4.5M1265.42 735.60v4.5M1283.07 735.60v4.5M1300.71 735.60v4.5M1318.35 735.60v4.5M1335.99 735.60v4.5M1353.63 735.60v4.5M1371.28 735.60v4.5M1388.92 735.60v4.5M1406.56 735.60v4.5M1424.20 735.60v4.5M1212.50 607.60h-4M1212.50 633.20h-4M1212.50 658.80h-4M1212.50 684.40h-4M1212.50 710.00h-4M1212.50 735.60h-4" stroke="#858585" stroke-width="1" fill="none"/><path d="M1397.50 607.60V735.60" stroke="#b32d36" stroke-width="1.3" fill="none"/><path d="M1397.74 691.06L1415.38 626.03" stroke="#2a8cc4" stroke-width="1.3" fill="none"/><path d="M1397.74 676.21L1415.38 666.48" stroke="#2a8cc4" stroke-width="1.3" fill="none" stroke-dasharray="5 3"/><circle cx="1397.74" cy="691.06" r="2.4" fill="#3a5f93"/><circle cx="1415.38" cy="626.03" r="2.4" fill="#1f8ac8"/><circle cx="1397.74" cy="676.21" r="2.4" fill="#3a5f93"/><circle cx="1415.38" cy="666.48" r="2.4" fill="#1f8ac8"/></svg>
<div class="t" style="left:1187.12px;top:731.95px;font-size:7.5px;line-height:7.5px;color:#a0a0a0;transform:scaleX(1.0300);">3500</div>
<div class="t" style="left:1187.12px;top:706.35px;font-size:7.5px;line-height:7.5px;color:#a0a0a0;transform:scaleX(1.0300);">3550</div>
<div class="t" style="left:1187.12px;top:680.75px;font-size:7.5px;line-height:7.5px;color:#a0a0a0;transform:scaleX(1.0300);">3600</div>
<div class="t" style="left:1187.12px;top:655.15px;font-size:7.5px;line-height:7.5px;color:#a0a0a0;transform:scaleX(1.0300);">3650</div>
<div class="t" style="left:1187.12px;top:629.55px;font-size:7.5px;line-height:7.5px;color:#a0a0a0;transform:scaleX(1.0300);">3700</div>
<div class="t" style="left:1187.12px;top:603.95px;font-size:7.5px;line-height:7.5px;color:#a0a0a0;transform:scaleX(1.0300);">3750</div>
<div class="t" style="left:1219.24px;top:746.45px;font-size:7.5px;line-height:7.5px;color:#a0a0a0;">3</div>
<div class="t" style="left:1236.88px;top:746.45px;font-size:7.5px;line-height:7.5px;color:#a0a0a0;">4</div>
<div class="t" style="left:1254.52px;top:746.45px;font-size:7.5px;line-height:7.5px;color:#a0a0a0;">5</div>
<div class="t" style="left:1272.16px;top:746.45px;font-size:7.5px;line-height:7.5px;color:#a0a0a0;">6</div>
<div class="t" style="left:1289.80px;top:746.45px;font-size:7.5px;line-height:7.5px;color:#a0a0a0;">7</div>
<div class="t" style="left:1307.44px;top:746.45px;font-size:7.5px;line-height:7.5px;color:#a0a0a0;">8</div>
<div class="t" style="left:1325.09px;top:746.45px;font-size:7.5px;line-height:7.5px;color:#a0a0a0;">9</div>
<div class="t" style="left:1340.31px;top:746.45px;font-size:7.5px;line-height:7.5px;color:#a0a0a0;transform:scaleX(1.0800);">10</div>
<div class="t" style="left:1358.25px;top:746.45px;font-size:7.5px;line-height:7.5px;color:#a0a0a0;transform:scaleX(1.0800);">11</div>
<div class="t" style="left:1375.59px;top:746.45px;font-size:7.5px;line-height:7.5px;color:#a0a0a0;transform:scaleX(1.0800);">12</div>
<div class="t" style="left:1395.65px;top:746.45px;font-size:7.5px;line-height:7.5px;color:#a0a0a0;">1</div>
<div class="t" style="left:1413.29px;top:746.45px;font-size:7.5px;line-height:7.5px;color:#a0a0a0;">2</div>
<div class="abs" style="left:1649px;top:110px;width:243px;height:664px;background:#f7f7f7;border-left:1px solid #d4d4d4"></div>
<div class="abs" style="left:1660px;top:120px;width:124px;height:29px;background:#fcfcfc;border-radius:5px 0 0 0"></div>
<div class="abs" style="left:1784px;top:120px;width:105px;height:29px;background:#2e8ece;border-radius:5px 5px 0 0"></div>
<div class="t" style="left:1689.25px;top:128.84px;font-size:12px;line-height:12px;color:#6a6a6a;font-weight:bold;transform:scaleX(0.9823);">Department</div>
<div class="t" style="left:1813.25px;top:128.84px;font-size:12px;line-height:12px;color:#fff;font-weight:bold;transform:scaleX(0.9551);">Provider</div>
<div class="abs" style="left:1660px;top:149px;width:227px;height:433px;background:#fff;border:1px solid #dcdcdc"></div>
<div class="abs" style="left:1661px;top:196px;width:227px;height:1px;background:#dcdcdc"></div>
<div class="t" style="left:1671.30px;top:164.85px;font-size:14px;line-height:14px;color:#333;font-weight:bold;transform:scaleX(0.8891);">Provider</div>
<div class="abs" style="left:1852px;top:160px;width:26px;height:26px;background:#3498db;border-radius:50%"></div>
<svg class="sv" width="1892" height="774"><path d="M1859.6 175.6l5.5-5.2l5.5 5.2" stroke="#fff" stroke-width="2.6" fill="none"/></svg>
<div class="abs" style="left:1671px;top:204px;width:205px;height:32px;background:#fff;border:1px solid #c8c8c8;border-radius:4px"></div>
<div class="abs" style="left:1697.5px;top:205px;width:1px;height:32px;background:#c8c8c8"></div>
<div class="abs" style="left:1849.3px;top:205px;width:1px;height:32px;background:#c8c8c8"></div>
<div class="t" style="left:1710.00px;top:215.15px;font-size:14px;line-height:14px;color:#aaa;transform:scaleX(0.9460);">Search...</div>
<svg class="sv" width="1892" height="774" viewBox="0 0 1892 774">
<path d="M1681.6 216.8V215.9Q1681.6 214.9 1682.6 214.9H1686.4Q1687.4 214.9 1687.4 215.9V216.8" stroke="#2b2b2b" stroke-width="1.3" fill="none"/>
<rect x="1677.3" y="216.4" width="14.6" height="1.8" rx="0.5" fill="#2b2b2b"/>
<path d="M1678.7 218.9H1690.5V228.4Q1690.5 230.2 1688.7 230.2H1680.5Q1678.7 230.2 1678.7 228.4Z" fill="#2b2b2b"/>
<g fill="#d8d8e0"><rect x="1681.2" y="220.4" width="1.3" height="7.6"/><rect x="1683.95" y="220.4" width="1.3" height="7.6" fill="#e6dfc8"/><rect x="1686.7" y="220.4" width="1.3" height="7.6"/></g>
<circle cx="1861.5" cy="221.2" r="5.2" stroke="#222" stroke-width="2.5" fill="none"/><path d="M1865.6 225.3L1871.5 231" stroke="#222" stroke-width="3" stroke-linecap="round" fill="none"/>
</svg>
<div class="abs" style="left:1673px;top:252px;width:11px;height:11px;background:#fff;border:1px solid #777;"></div>
<div class="abs" style="left:1673px;top:272px;width:11px;height:11px;background:#fff;border:1px solid #777;"></div>
<div class="abs" style="left:1673px;top:292px;width:11px;height:11px;background:#fff;border:1px solid #777;"></div>
<div class="abs" style="left:1673px;top:312px;width:11px;height:11px;background:#fff;border:1px solid #777;"></div>
<div class="abs" style="left:1673px;top:332px;width:11px;height:11px;background:#fff;border:1px solid #777;"></div>
<div class="abs" style="left:1673px;top:352px;width:11px;height:11px;background:#fff;border:1px solid #777;"></div>
<div class="abs" style="left:1673px;top:372px;width:11px;height:11px;background:#fff;border:1px solid #777;"></div>
<div class="abs" style="left:1673px;top:392px;width:11px;height:11px;background:#fff;border:1px solid #777;"></div>
<div class="abs" style="left:1673px;top:412px;width:11px;height:11px;background:#fff;border:1px solid #777;"></div>
<div class="abs" style="left:1673px;top:432px;width:11px;height:11px;background:#fff;border:1px solid #777;"></div>
<div class="abs" style="left:1673px;top:452px;width:11px;height:11px;background:#fff;border:1px solid #777;"></div>
<div class="abs" style="left:1673px;top:472px;width:11px;height:11px;background:#fff;border:1px solid #777;"></div>
<div class="abs" style="left:1673px;top:492px;width:11px;height:11px;background:#fff;border:1px solid #777;"></div>
<div class="abs" style="left:1673px;top:512px;width:11px;height:11px;background:#fff;border:1px solid #777;"></div>
<div class="abs" style="left:1673px;top:532px;width:11px;height:10px;background:#fff;border:1px solid #777;border-bottom:none;"></div>
<div class="t" style="left:1841.60px;top:353.99px;font-size:11px;line-height:11px;color:#333;font-weight:bold;">...</div>
<div class="t" style="left:1844.60px;top:373.99px;font-size:11px;line-height:11px;color:#333;font-weight:bold;">...</div>
<div class="t" style="left:1847.60px;top:413.99px;font-size:11px;line-height:11px;color:#333;font-weight:bold;">...</div>
<div class="t" style="left:1845.20px;top:513.99px;font-size:11px;line-height:11px;color:#333;font-weight:bold;">...</div>
<div class="abs" style="left:1845px;top:414.6px;width:1.6px;height:9px;background:#333"></div>
<div class="abs" style="left:1691px;top:251px;width:154px;height:293px;background:#000"></div>
<div class="abs" style="left:1872px;top:243px;width:15.5px;height:300px;background:#f0f0f0"></div>
<div class="abs" style="left:1872px;top:260px;width:15px;height:237px;background:#c8c8c8"></div>
<svg class="sv" width="1892" height="774"><path d="M1876.3 254l3.3-3.4l3.3 3.4M1876.3 531.5l3.3 3.4l3.3-3.4" stroke="#444" stroke-width="1.7" fill="none"/></svg>
<div class="abs" style="left:1672.3px;top:548.3px;width:98.5px;height:26px;background:#fff;border:1px solid #ccc;border-radius:4px"></div>
<div class="abs" style="left:1776px;top:548.3px;width:99px;height:26px;background:#fff;border:1px solid #ccc;border-radius:4px"></div>
<div class="t" style="left:1711.50px;top:556.15px;font-size:14px;line-height:14px;color:#333;">Apply</div>
<div class="t" style="left:1816.50px;top:556.15px;font-size:14px;line-height:14px;color:#333;transform:scaleX(0.9864);">Clear</div>
<svg class="sv" width="1892" height="774" viewBox="0 0 1892 774"><path d="M1698 557.9H1709Q1709.4 558.3 1709 558.8L1705.1 563.4V569L1702 566.7V563.4L1698 558.8Q1697.6 558.3 1698 557.9Z" fill="#333"/><path d="M1805.2 560L1812.2 567M1812.2 560L1805.2 567" stroke="#333" stroke-width="3" fill="none"/></svg>
</body></html>
